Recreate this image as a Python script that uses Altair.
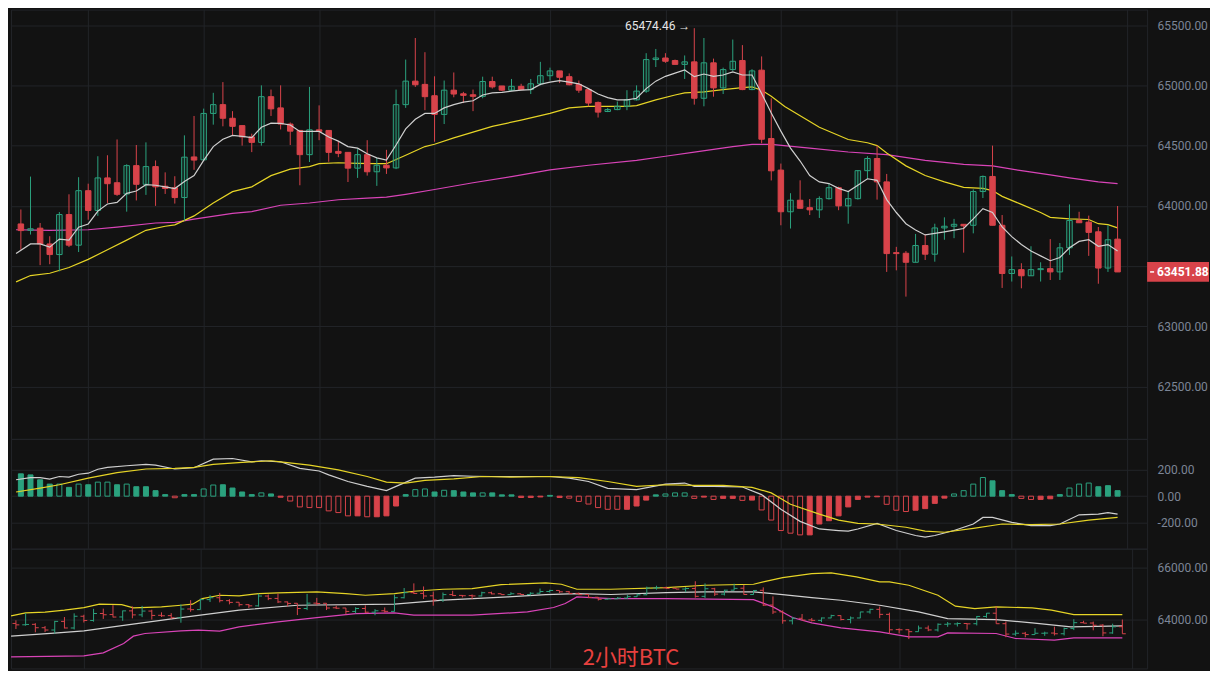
import altair as alt
import pandas as pd

# ---------------- data ----------------
OPEN = [63850, 63797, 63815, 63684, 63596, 63928, 63674, 64126, 63962, 64232,
        64192, 64099, 64334, 64179, 64326, 64163, 64150, 64069, 64406, 64382,
        64767, 64840, 64727, 64666, 64572, 64527, 64906, 64813, 64679, 64626,
        64425, 64631, 64626, 64452, 64444, 64313, 64425, 64283, 64337, 64315,
        64840, 65035, 65008, 64914, 64759, 64960, 64930, 64922, 64909, 65032,
        64995, 64960, 64992, 64965, 65013, 65080, 65120, 65072, 65008, 64965,
        64858, 64783, 64799, 64826, 64880, 64952, 65214, 65227, 65206, 65174,
        65195, 64893, 65187, 64979, 65131, 65206, 64965, 65126, 64559, 64297,
        63951, 64047, 63985, 63967, 64060, 64151, 64000, 64060, 64292, 64393,
        64199, 63612, 63607, 63532, 63671, 63599, 63817, 63831, 63847, 63839,
        64119, 64244, 63839, 63439, 63471, 63420, 63471, 63479, 63452, 63652,
        63879, 63865, 63785, 63484, 63724]
HIGH = [63970, 64243, 63858, 63748, 63949, 64096, 64238, 64184, 64412, 64420,
        64551, 64345, 64505, 64527, 64377, 64278, 64246, 64585, 64746, 64807,
        64938, 65027, 64786, 64666, 64599, 65000, 64965, 65000, 64692, 64626,
        64987, 64834, 64626, 64537, 64444, 64471, 64545, 64398, 64465, 64965,
        65214, 65393, 65275, 65075, 65040, 65107, 64946, 64965, 65072, 65072,
        64995, 65053, 65013, 65053, 65195, 65147, 65120, 65099, 65040, 64965,
        64866, 64813, 64866, 64960, 65000, 65267, 65302, 65267, 65214, 65248,
        65474.46, 65393, 65222, 65147, 65380, 65334, 65134, 65240, 64892, 64351,
        64105, 64212, 64057, 64079, 64185, 64159, 64119, 64297, 64412, 64500,
        64265, 63660, 63625, 63767, 63767, 63852, 63905, 63892, 63847, 64137,
        64252, 64500, 63924, 63580, 63524, 63665, 63532, 63724, 63692, 64012,
        63951, 63919, 63825, 63839, 63999]
LOW = [63635, 63762, 63508, 63516, 63457, 63658, 63617, 63885, 63917, 64024,
       64083, 63952, 64045, 64091, 64000, 64099, 64019, 63877, 64299, 64380,
       64674, 64660, 64585, 64500, 64446, 64500, 64746, 64634, 64505, 64171,
       64364, 64545, 64366, 64404, 64198, 64232, 64251, 64166, 64265, 64305,
       64813, 64987, 64794, 64532, 64679, 64901, 64853, 64786, 64893, 64973,
       64954, 64954, 64960, 64928, 65000, 65040, 65019, 65000, 64938, 64826,
       64733, 64778, 64794, 64794, 64874, 64938, 65152, 65187, 65174, 65053,
       64840, 64826, 64906, 64928, 65120, 64960, 64960, 64519, 64211, 63839,
       63812, 63980, 63924, 63900, 64052, 63964, 63852, 64052, 64225, 64052,
       63452, 63465, 63247, 63532, 63551, 63537, 63719, 63732, 63612, 63772,
       64065, 63839, 63319, 63372, 63316, 63420, 63372, 63385, 63385, 63593,
       63860, 63585, 63354, 63452, 63451.88]
CLOSE = [63795, 63810, 63684, 63596, 63928, 63674, 64126, 63962, 64232, 64184,
         64096, 64334, 64179, 64326, 64158, 64144, 64069, 64404, 64380, 64767,
         64840, 64727, 64660, 64572, 64527, 64906, 64805, 64679, 64620, 64425,
         64631, 64618, 64444, 64436, 64313, 64425, 64283, 64337, 64315, 64840,
         65035, 65005, 64906, 64759, 64960, 64928, 64917, 64909, 65032, 64987,
         64960, 64992, 64965, 65013, 65080, 65120, 65067, 65005, 64960, 64853,
         64778, 64799, 64826, 64880, 64952, 65214, 65227, 65200, 65174, 65195,
         64893, 65187, 64979, 65131, 65200, 64965, 65120, 64553, 64291, 63951,
         64047, 63980, 63967, 64060, 64151, 64000, 64060, 64292, 64393, 64199,
         63604, 63604, 63532, 63671, 63599, 63817, 63831, 63847, 63834, 64119,
         64244, 63839, 63439, 63471, 63420, 63471, 63479, 63452, 63652, 63879,
         63860, 63780, 63484, 63719, 63451.88]

# moving averages on the price panel (index, value)
MA_W_X = [-0.5, 1, 2, 3, 4, 5, 6, 7, 8, 9, 10, 11, 12, 13, 14, 15, 16, 17, 18, 19,
          20, 21, 22, 23, 24, 25, 26, 27, 28, 29, 30, 31, 32, 33, 34, 35, 36, 37, 38, 39,
          40, 41, 42, 43, 44, 45, 46, 47, 48, 49, 50, 51, 52, 53, 54, 55, 56, 57, 58, 59,
          60, 61, 62, 63, 64, 65, 66, 67, 68, 69, 70, 71, 72, 73, 74, 75, 76, 77, 78, 79,
          80, 81, 82, 83, 84, 85, 86, 87, 88, 89, 90, 91, 92, 93, 94, 95, 96, 97, 98, 99,
          100, 101, 102, 103, 104, 105, 106, 107, 108, 109, 110, 111, 112, 113, 114]
MA_W_Y = [63604, 63684, 63684, 63658, 63724, 63716, 63823, 63850, 63957, 64016,
          64029, 64104, 64123, 64176, 64171, 64158, 64144, 64203, 64251, 64377,
          64492, 64553, 64585, 64577, 64567, 64652, 64687, 64684, 64671, 64618,
          64618, 64618, 64572, 64537, 64492, 64479, 64433, 64398, 64380, 64505,
          64639, 64719, 64767, 64767, 64813, 64840, 64861, 64872, 64920, 64938,
          64941, 64952, 64960, 64965, 65008, 65027, 65040, 65027, 65013, 64973,
          64928, 64898, 64880, 64880, 64893, 64973, 65035, 65075, 65102, 65128,
          65072, 65094, 65075, 65086, 65112, 65086, 65086, 64933, 64770, 64620,
          64479, 64372, 64252, 64199, 64185, 64145, 64119, 64172, 64225, 64212,
          64052, 63945, 63852, 63799, 63759, 63772, 63785, 63799, 63812, 63892,
          63977, 63945, 63825, 63745, 63679, 63625, 63585, 63545, 63572, 63652,
          63705, 63719, 63665, 63679, 63625]
MA_Y_X = [-0.5, 1, 3, 5, 7, 9, 11, 13, 15, 16, 18, 20, 22, 24, 26, 28, 30, 31, 33, 35,
          37, 38, 39, 40, 42, 43, 45, 47, 49, 52, 55, 57, 59, 61, 63, 64, 66, 68, 69, 71,
          73, 75, 76, 77, 78, 79.4, 83, 86, 88, 89, 90, 92, 94, 96, 98, 100, 101, 102, 104,
          106, 107, 109, 111, 112, 113, 114]
MA_Y_Y = [63369, 63422, 63441, 63489, 63556, 63636, 63716, 63797, 63831, 63842,
          63917, 64024, 64118, 64158, 64251, 64305, 64326, 64350, 64358, 64353,
          64350, 64350, 64385, 64420, 64492, 64511, 64564, 64612, 64660, 64711,
          64767, 64813, 64826, 64826, 64826, 64832, 64880, 64920, 64938, 64946,
          64965, 64981, 64987, 64960, 64910, 64825, 64652, 64551, 64524, 64500,
          64439, 64332, 64252, 64199, 64153, 64145, 64127, 64079, 64012,
          63945, 63905, 63892, 63887, 63852, 63844, 63817]
MA_M_X = [-0.5, 3, 7, 10, 14, 16, 18, 22, 24, 27, 30, 33, 36, 38, 40, 43, 47, 51, 55, 59,
          64, 67, 70, 74, 76, 78, 82, 86, 90, 94, 98, 101, 104, 107, 109, 112, 114]
MA_M_Y = [63802, 63797, 63802, 63823, 63858, 63863, 63890, 63938, 63952, 64005,
          64024, 64051, 64064, 64072, 64096, 64136, 64192, 64243, 64299, 64337,
          64377, 64412, 64446, 64492, 64511, 64511, 64479, 64447, 64425, 64377,
          64345, 64332, 64292, 64257, 64233, 64199, 64185]

# MACD panel
MACD_HIST = [170, 162, 125, 92, 92, 67, 92, 87, 107, 107,
             87, 92, 72, 72, 42, 12, -12, 12, 12, 55,
             85, 87, 62, 32, 12, 25, 17, -8, -37, -82,
             -87, -87, -112, -125, -150, -150, -157, -157, -150, -75,
             12, 50, 55, 32, 45, 42, 32, 25, 25, 25,
             10, 10, -10, -10, -6, 6, -10, -15, -40, -60,
             -87, -100, -100, -100, -75, -30, 10, 17, 25, 25,
             -17, -7, -25, -17, -17, -32, -30, -105, -182, -262,
             -282, -295, -295, -212, -187, -150, -82, -25, -7, -5,
             -62, -107, -117, -107, -95, -55, -15, 17, 42, 92,
             142, 117, 42, 12, -17, -25, -25, -20, 12, 62,
             92, 100, 72, 80, 42]
MACD_HOLLOW = [0, 0, 0, 0, 1, 0, 1, 0, 1, 1,
               0, 1, 0, 0, 0, 0, 1, 0, 0, 1,
               1, 0, 0, 0, 0, 1, 0, 0, 1, 1,
               1, 1, 1, 1, 1, 0, 1, 0, 0, 0,
               0, 1, 1, 0, 1, 0, 0, 0, 1, 0,
               0, 0, 0, 0, 0, 0, 0, 1, 1, 1,
               1, 1, 1, 0, 0, 0, 0, 1, 1, 1,
               1, 0, 1, 0, 0, 1, 0, 1, 1, 1,
               1, 1, 0, 0, 0, 0, 0, 0, 0, 0,
               1, 1, 1, 0, 0, 0, 0, 1, 1, 1,
               1, 0, 0, 0, 1, 1, 0, 0, 0, 1,
               1, 1, 0, 0, 0]
DIF_X = [-0.5, 1, 2, 3, 4, 5, 6, 7, 8, 9, 11, 13, 14, 16, 18, 20, 22, 24, 25, 27,
         29, 31, 32, 34, 36, 38, 39, 41, 43, 45, 47, 49, 51, 53, 55, 57, 59, 61, 64, 67,
         69, 70, 72, 75, 77, 79, 81, 83, 85, 86, 87, 89, 91, 93, 94, 95, 97, 99, 100, 101,
         103, 105, 107, 108, 110, 112, 113, 114]
DIF_Y = [125, 142, 142, 130, 150, 145, 167, 175, 205, 220, 232, 242, 237, 207, 217,
         282, 287, 262, 270, 262, 212, 192, 162, 112, 75, 42, 75, 137, 145, 157,
         152, 150, 150, 150, 150, 137, 112, 60, 50, 92, 100, 75, 75, 70, 12,
         -100, -192, -250, -262, -267, -250, -207, -262, -300, -312, -300, -262,
         -212, -162, -162, -200, -225, -225, -212, -142, -137, -125, -137]
DEA_X = [-0.5, 2, 4, 7, 10, 13, 16, 18, 20, 23, 26, 27, 30, 33, 36, 38, 40, 42, 45, 48,
         51, 55, 58, 61, 64, 67, 70, 73, 76, 78, 80, 83, 85, 87, 89, 92, 94, 96, 99, 102,
         105, 108, 111, 114]
DEA_Y = [32, 62, 87, 137, 180, 207, 212, 220, 242, 257, 270, 262, 237, 200, 150,
         107, 100, 120, 132, 150, 145, 150, 142, 112, 75, 87, 82, 82, 67, 25,
         -62, -137, -182, -207, -212, -237, -267, -275, -245, -212, -217, -212, -182, -162]

# band panel (upper / middle / lower)
UP_X = [-0.5, 1, 3, 5, 7, 8.6, 10.9, 12.1, 15, 17, 18.2, 19.2, 21, 23, 25, 27, 31, 34, 36, 39,
        41, 44, 47, 50, 54.6, 56.2, 57.8, 61.3, 67, 71, 76, 77, 79, 82, 84, 86.6, 89, 90, 92, 95,
        96.8, 98.8, 101, 104.7, 106.7, 109, 114]
UP_Y = [64141, 64256, 64282, 64359, 64462, 64590, 64577, 64449, 64487, 64551,
        64590, 64808, 64936, 64910, 65000, 65026, 65064, 65000, 64936, 65000,
        65090, 65167, 65192, 65346, 65410, 65359, 65167, 65167, 65231, 65321,
        65359, 65449, 65615, 65769, 65795, 65641, 65449, 65449, 65321, 64936,
        64513, 64423, 64487, 64449, 64359, 64192, 64192]
MID_X = [-0.5, 4.3, 7, 11.3, 17, 23, 29, 39, 44, 50.7, 54.6, 57.8, 61.3, 67, 71, 76, 79, 82,
         85, 89, 93, 96, 101, 104.7, 108.7, 114]
MID_Y = [63359, 63487, 63564, 63782, 64077, 64359, 64551, 64590, 64744, 64872,
         64962, 65000, 64965, 65038, 65064, 65064, 64962, 64846, 64744, 64551,
         64295, 64038, 64000, 63872, 63718, 63756]
LOW_X = [-0.5, 7, 9, 11.1, 12.1, 13.3, 17, 18.8, 21, 23, 27, 31, 35, 39, 41, 47, 52.7, 55.4,
         56.6, 57.8, 61.3, 67, 76, 78, 80, 82, 85, 89, 92, 95, 96, 101, 103, 107, 109, 114]
LOW_Y = [62564, 62603, 62718, 63077, 63359, 63462, 63564, 63590, 63551, 63718,
         63910, 64077, 64231, 64256, 64167, 64167, 64295, 64462, 64615, 64872,
         64808, 64808, 64769, 64487, 64077, 63872, 63680, 63526, 63333, 63333,
         63487, 63462, 63269, 63205, 63295, 63295]

PRICE_TICKS = [62500, 63000, 63500, 64000, 64500, 65000, 65500]
MACD_TICKS = [-200, 0, 200]
BAND_TICKS = [62000, 64000, 66000]
TITLE = "2小时BTC"

# ---------------- styling / layout ----------------
BG = "#121212"
GRID = "#222428"
GREEN = "#2ba27e"
RED = "#d8434a"
LBL = "#7c8596"
WHITE_L = "#cfcfcf"
YEL_L = "#e6d426"
MAG_L = "#d944b8"

W = 1138
H_MAIN, H_MACD, H_BAND = 430, 110, 120
X_DOM = [-0.508, 116.55]
XGRID = list(range(7, 116, 12))
LABEL_EXPR = "replace(format(datum.value, '.2f'), '\u2212', '-')"

n = len(OPEN)
cdf = pd.DataFrame({"i": list(range(n)), "o": OPEN, "h": HIGH, "l": LOW, "c": CLOSE})
cdf["dir"] = ["up" if c >= o else "down" for o, c in zip(cdf.o, cdf.c)]
cdf["il"] = cdf.i - 0.35
cdf["ir"] = cdf.i + 0.35
up_df = cdf[cdf.dir == "up"]
dn_df = cdf[cdf.dir == "down"]

color_dir = alt.Color("dir:N", scale=alt.Scale(domain=["up", "down"], range=[GREEN, RED]), legend=None)


def xenc(field="i"):
    return alt.X(f"{field}:Q", scale=alt.Scale(domain=X_DOM, nice=False, zero=False),
                 axis=alt.Axis(values=XGRID, labels=False, ticks=False, domain=False,
                               grid=True, title=None))


def yenc(field, dom, ticks):
    return alt.Y(f"{field}:Q", scale=alt.Scale(domain=dom, nice=False, zero=False),
                 axis=alt.Axis(orient="right", values=ticks, labelExpr=LABEL_EXPR,
                               labelPadding=10, ticks=False, domain=False, grid=True,
                               title=None))


def line_df(xs, ys):
    return pd.DataFrame({"i": xs, "v": ys})


# ---------------- price panel ----------------
PD = [62067, 65629]
wick = alt.Chart(cdf).mark_rule(strokeWidth=1).encode(
    x=xenc(), y=yenc("l", PD, PRICE_TICKS), y2="h:Q", color=color_dir)
body_up = alt.Chart(up_df).mark_bar(size=5.5, color=GREEN, fillOpacity=0.12,
                                    stroke=GREEN, strokeWidth=1).encode(
    x=xenc(), y=yenc("o", PD, PRICE_TICKS), y2="c:Q")
body_dn = alt.Chart(dn_df).mark_bar(size=5.5, color=RED, stroke=RED, strokeWidth=1).encode(
    x=xenc(), y=yenc("o", PD, PRICE_TICKS), y2="c:Q")


def ma(xs, ys, col, dom, ticks, w=1.2):
    return alt.Chart(line_df(xs, ys)).mark_line(color=col, strokeWidth=w).encode(
        x=xenc(), y=yenc("v", dom, ticks))


hi_i = max(range(n), key=lambda k: HIGH[k])
ann = pd.DataFrame({"i": [hi_i], "v": [HIGH[hi_i]], "t": [f"{HIGH[hi_i]:.2f} \u2192"]})
ann_text = alt.Chart(ann).mark_text(align="right", baseline="middle", dx=-4, dy=-2,
                                    color="#e6e6e6", fontSize=12, font="Roboto").encode(
    x=xenc(), y=yenc("v", PD, PRICE_TICKS), text="t:N")

last = CLOSE[-1]
box = pd.DataFrame({"lo": [last - 82], "hi": [last + 82], "v": [last], "t": [f"{last:.2f}"]})
box_rect = alt.Chart(box).mark_rect(color=RED).encode(
    x=alt.value(W), x2=alt.value(W + 62), y=yenc("lo", PD, PRICE_TICKS), y2="hi:Q")
box_dash = alt.Chart(box).mark_rule(color="#ffffff", strokeWidth=1.5).encode(
    x=alt.value(W + 3), x2=alt.value(W + 7), y=yenc("v", PD, PRICE_TICKS))
box_text = alt.Chart(box).mark_text(align="left", baseline="middle", color="#ffffff",
                                    fontSize=12, fontWeight="bold", font="Roboto").encode(
    x=alt.value(W + 10), y=yenc("v", PD, PRICE_TICKS), text="t:N")

main = alt.layer(
    ma(MA_M_X, MA_M_Y, MAG_L, PD, PRICE_TICKS),
    ma(MA_Y_X, MA_Y_Y, YEL_L, PD, PRICE_TICKS),
    wick, body_up, body_dn,
    ma(MA_W_X, MA_W_Y, WHITE_L, PD, PRICE_TICKS),
    ann_text, box_rect, box_dash, box_text,
).properties(width=W, height=H_MAIN)

# ---------------- MACD panel ----------------
MD = [-400, 437]
hdf = pd.DataFrame({"i": list(range(n)), "v": MACD_HIST, "z": 0, "hollow": MACD_HOLLOW})
hdf["dir"] = ["up" if v >= 0 else "down" for v in hdf.v]
h_fill = alt.Chart(hdf[hdf.hollow == 0]).mark_bar(size=5, strokeWidth=1).encode(
    x=xenc(), y=yenc("v", MD, MACD_TICKS), y2="z:Q",
    fill=alt.Fill("dir:N", scale=alt.Scale(domain=["up", "down"], range=[GREEN, RED]), legend=None),
    stroke=alt.Stroke("dir:N", scale=alt.Scale(domain=["up", "down"], range=[GREEN, RED]), legend=None))
h_hollow = alt.Chart(hdf[hdf.hollow == 1]).mark_bar(size=5, strokeWidth=1, fillOpacity=0).encode(
    x=xenc(), y=yenc("v", MD, MACD_TICKS), y2="z:Q",
    stroke=alt.Stroke("dir:N", scale=alt.Scale(domain=["up", "down"], range=[GREEN, RED]), legend=None))
macd = alt.layer(
    h_fill, h_hollow,
    ma(DIF_X, DIF_Y, WHITE_L, MD, MACD_TICKS),
    ma(DEA_X, DEA_Y, YEL_L, MD, MACD_TICKS),
).properties(width=W, height=H_MACD)

# ---------------- band panel ----------------
BD = [62115, 66731]
b_wick = alt.Chart(cdf).mark_rule(strokeWidth=1).encode(
    x=xenc(), y=yenc("l", BD, BAND_TICKS), y2="h:Q", color=color_dir)
b_open = alt.Chart(cdf).mark_rule(strokeWidth=1).encode(
    x=xenc("il"), x2="i:Q", y=yenc("o", BD, BAND_TICKS), color=color_dir)
b_close = alt.Chart(cdf).mark_rule(strokeWidth=1).encode(
    x=xenc("i"), x2="ir:Q", y=yenc("c", BD, BAND_TICKS), color=color_dir)
title_df = pd.DataFrame({"t": [TITLE]})
title_txt = alt.Chart(title_df).mark_text(align="center", baseline="alphabetic", color="#e8413f",
                                          fontSize=22, font="Noto Sans CJK SC").encode(
    x=alt.value(621), y=alt.value(117), text="t:N")
band = alt.layer(
    ma(UP_X, UP_Y, YEL_L, BD, BAND_TICKS),
    ma(MID_X, MID_Y, WHITE_L, BD, BAND_TICKS),
    ma(LOW_X, LOW_Y, MAG_L, BD, BAND_TICKS),
    b_wick, b_open, b_close, title_txt,
).properties(width=W, height=H_BAND)

chart = alt.vconcat(main, macd, band, spacing=0, bounds="flush").properties(
    padding=0, background=BG
).configure_view(stroke=GRID, strokeWidth=1).configure_axis(
    labelFont="Roboto", labelFontSize=12, labelColor=LBL, gridColor=GRID, gridWidth=1
)

chart.save("out.html", embed_options={"renderer": "svg", "actions": False})
